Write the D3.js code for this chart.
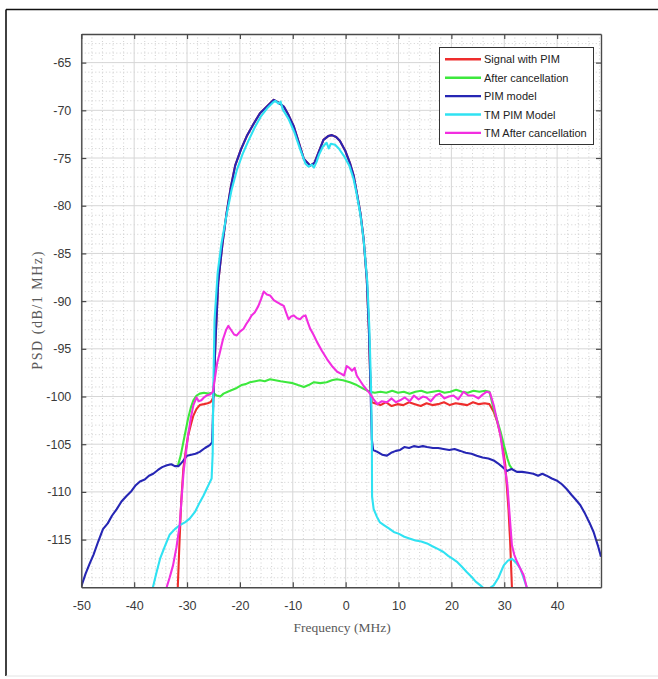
<!DOCTYPE html>
<html><head><meta charset="utf-8">
<script src="https://cdn.jsdelivr.net/npm/d3@7"></script>
<style>html,body{margin:0;padding:0;background:#fff;}svg{display:block;}</style>
</head><body>
<svg id="chart" width="658" height="679"></svg>
<script>
// ---------------- DATA ----------------
const seriesNames = ["Signal with PIM", "After cancellation", "PIM model", "TM PIM Model", "TM After cancellation"];
const seriesColors = ["#ee2d2d", "#3de83d", "#2626b4", "#2fe2f2", "#f22ee0"];
const xTicks = [-50, -40, -30, -20, -10, 0, 10, 20, 30, 40];
const yTicks = [-115, -110, -105, -100, -95, -90, -85, -80, -75, -70, -65];

const lobeMain = [[-25.0,-100],[-24.6,-94],[-24.1,-88],[-23.3,-84],[-22.5,-80.7],[-21.7,-78],[-20.9,-75.8],[-19.8,-74.1],[-18.7,-72.7],[-17.4,-71.4],[-16.2,-70.3],[-14.9,-69.6],[-13.6,-68.9],[-12.7,-69.2],[-11.7,-69.6],[-10.8,-70.5],[-9.8,-71.7],[-8.9,-73.3],[-7.9,-75.1],[-6.7,-75.8],[-5.9,-75.5],[-5.4,-74.8],[-4.2,-73.1],[-3.3,-72.7],[-2.6,-72.6],[-1.8,-72.8],[-1.1,-73.2],[-0.1,-74.2],[0.8,-75.5],[1.5,-76.8],[2.1,-78.6],[2.8,-80.8],[3.4,-83.5],[4.0,-87.7],[4.4,-93],[4.7,-99]];

const signalWithPIM = [[-31.75,-120],[-31.45,-115.6],[-31.1,-111],[-30.7,-107.6],[-30.2,-105.5],[-29.8,-104.1],[-29.3,-103.0],[-28.8,-102.0],[-28.2,-101.3],[-27.6,-100.9],[-26.8,-100.8],[-26.1,-100.7],[-25.6,-100.6],[-25.3,-100.4],
  ...lobeMain,
  [4.95,-100.6],[5.5,-100.7],[6.6,-100.9],[7.6,-100.6],[8.7,-101.0],[9.8,-100.8],[10.9,-100.9],[12.0,-100.6],[13.1,-100.8],[14.2,-101.0],[15.3,-100.7],[16.4,-100.9],[17.5,-100.8],[18.6,-100.6],[19.7,-100.9],[20.8,-100.7],[21.9,-100.8],[23.0,-100.9],[24.1,-100.6],[25.2,-100.8],[26.3,-100.7],[27.2,-100.8],[28.0,-101.6],[28.7,-102.7],[29.3,-104.1],[29.8,-105.6],[30.2,-107.2],[30.8,-111.8],[31.1,-115],[31.45,-120]];

const afterCancellation = [[-31.75,-107.3],[-31.2,-106.2],[-30.7,-104.8],[-30.2,-103.4],[-29.8,-102.3],[-29.3,-101.2],[-28.8,-100.4],[-28.2,-99.9],[-27.6,-99.7],[-26.8,-99.6],[-26.0,-99.7],[-25.1,-99.6],[-24.4,-99.9],[-23.7,-100.0],[-23.1,-99.7],[-22.3,-99.5],[-21.4,-99.3],[-20.6,-99.1],[-19.7,-98.8],[-18.9,-98.7],[-18.1,-98.5],[-17.1,-98.4],[-16.2,-98.3],[-15.3,-98.4],[-14.3,-98.2],[-13.3,-98.3],[-12.3,-98.4],[-11.1,-98.5],[-10.0,-98.6],[-9.0,-98.8],[-7.9,-99.0],[-7.0,-98.8],[-6.0,-98.5],[-4.8,-98.6],[-3.6,-98.5],[-2.6,-98.3],[-1.7,-98.2],[-0.5,-98.3],[0.8,-98.5],[2.1,-98.8],[3.4,-99.2],[4.6,-99.5],[5.5,-99.6],[6.6,-99.5],[7.7,-99.6],[8.8,-99.4],[9.9,-99.6],[11.0,-99.5],[12.1,-99.7],[13.2,-99.5],[14.3,-99.4],[15.4,-99.6],[16.5,-99.5],[17.6,-99.4],[18.7,-99.6],[19.8,-99.5],[20.9,-99.3],[22.0,-99.5],[23.1,-99.6],[24.2,-99.4],[25.3,-99.5],[26.4,-99.4],[27.2,-99.5],[28.0,-101.3],[28.6,-102.4],[29.3,-103.7],[29.9,-105.0],[30.6,-106.5],[31.0,-107.2],[31.5,-107.6]];

const pimModel = [[-50,-119.9],[-49.2,-118.6],[-48.4,-117.5],[-47.7,-116.6],[-46.8,-115.2],[-45.9,-113.9],[-45.0,-113.3],[-44.2,-112.5],[-43.3,-111.8],[-42.4,-111.0],[-41.4,-110.4],[-40.5,-109.9],[-39.7,-109.3],[-38.9,-108.9],[-38.0,-108.7],[-37.2,-108.3],[-36.4,-108.1],[-35.5,-107.7],[-34.7,-107.4],[-33.8,-107.2],[-33.0,-107.1],[-32.3,-107.3],[-31.6,-107.3],[-30.8,-106.8],[-30.0,-106.2],[-29.2,-106.1],[-28.4,-106.0],[-27.6,-105.8],[-26.6,-105.4],[-25.7,-105.1],[-25.25,-104.8],
  ...lobeMain,
  [4.95,-104.5],[5.2,-105.6],[6.0,-105.8],[6.9,-106.1],[7.8,-106.2],[8.6,-105.9],[9.5,-105.7],[10.3,-105.6],[11.1,-105.3],[12.0,-105.4],[12.9,-105.2],[13.8,-105.3],[14.6,-105.2],[15.4,-105.3],[16.5,-105.4],[17.5,-105.4],[18.5,-105.5],[19.6,-105.6],[20.6,-105.5],[21.7,-105.7],[22.7,-105.9],[23.8,-106.0],[24.8,-106.2],[25.9,-106.4],[27.0,-106.5],[28.0,-106.7],[28.8,-107.0],[29.7,-107.4],[30.5,-107.8],[31.4,-107.6],[32.4,-107.9],[33.4,-107.9],[34.5,-108.0],[35.5,-108.1],[36.4,-108.3],[37.2,-108.1],[38.0,-108.3],[39.0,-108.6],[39.9,-108.8],[40.9,-109.2],[41.8,-109.7],[42.7,-110.3],[43.5,-110.8],[44.4,-111.4],[45.3,-112.3],[46.1,-113.2],[46.9,-114.2],[47.7,-115.6],[48.3,-116.8]];

const tmPimModel = [[-36.45,-120],[-35.8,-118.5],[-35.1,-117],[-34.2,-115.7],[-33.3,-114.5],[-32.3,-113.9],[-31.4,-113.5],[-30.4,-113.2],[-29.5,-112.8],[-28.5,-112.1],[-27.6,-111.1],[-26.9,-110.4],[-26.3,-109.7],[-25.7,-109.0],[-25.35,-108.6],[-25.15,-106],[-25.05,-100],[-24.8,-92],[-24.2,-87],[-23.5,-84],[-22.6,-81.2],[-21.6,-78.4],[-20.6,-76.3],[-19.5,-74.6],[-18.4,-73.2],[-17.2,-71.8],[-16.0,-70.6],[-14.7,-69.7],[-13.8,-69.2],[-13.3,-69.0],[-12.7,-69.3],[-12.3,-69.1],[-11.9,-69.9],[-10.8,-70.9],[-9.7,-72.3],[-8.6,-74.1],[-7.6,-75.6],[-7.0,-75.9],[-6.4,-75.7],[-6.0,-76.0],[-5.5,-75.4],[-5.0,-74.6],[-4.3,-73.8],[-3.6,-73.4],[-3.2,-74.0],[-2.8,-73.5],[-2.0,-73.6],[-1.3,-74.0],[-0.3,-74.8],[0.7,-75.8],[1.5,-77.2],[2.1,-78.8],[2.8,-81.0],[3.4,-83.6],[4.1,-88],[4.5,-93],[4.8,-99],[4.95,-104],[5.0,-110.5],[5.3,-111.8],[5.9,-112.6],[6.5,-113.2],[7.3,-113.5],[8.1,-113.8],[9.1,-114.2],[10.1,-114.4],[11.1,-114.7],[12.2,-114.9],[13.2,-115.1],[14.3,-115.2],[15.4,-115.4],[16.4,-115.7],[17.5,-116.0],[18.5,-116.3],[19.4,-116.7],[20.2,-117.0],[21.0,-117.3],[21.9,-117.8],[22.9,-118.4],[23.8,-118.9],[24.6,-119.4],[25.5,-119.8],[26.3,-120.2],[27.2,-120.1],[28.0,-119.8],[28.9,-119.0],[29.9,-117.7],[30.7,-117.2],[31.45,-117.0],[32.2,-117.4],[33.0,-118.0],[33.6,-118.9],[34.25,-120]];

const tmAfterCancellation = [[-33.85,-120],[-33.3,-119],[-32.65,-117.7],[-32.0,-115.8],[-31.4,-113.5],[-31.0,-110.5],[-30.65,-107.9],[-30.2,-105.8],[-29.8,-104.1],[-29.3,-102.3],[-28.8,-100.9],[-28.2,-100.1],[-27.8,-100.5],[-27.3,-100.4],[-26.8,-100.1],[-26.3,-99.9],[-25.7,-99.8],[-25.1,-99.5],[-24.7,-98.0],[-24.3,-96.5],[-23.8,-95.4],[-23.2,-94.0],[-22.6,-93.0],[-22.2,-92.6],[-21.7,-93.0],[-21.1,-93.5],[-20.6,-93.6],[-20.0,-93.2],[-19.3,-92.9],[-18.8,-92.4],[-18.3,-92.0],[-17.8,-91.5],[-17.2,-91.2],[-16.5,-90.5],[-16.0,-89.8],[-15.5,-89.0],[-14.9,-89.3],[-14.3,-89.4],[-13.6,-89.9],[-13.0,-90.1],[-12.4,-90.3],[-11.7,-90.5],[-11.2,-91.3],[-10.8,-91.9],[-10.3,-91.6],[-9.8,-91.5],[-9.2,-91.8],[-8.6,-91.9],[-8.1,-91.6],[-7.6,-91.5],[-7.1,-92.3],[-6.7,-92.9],[-6.1,-93.5],[-5.4,-94.3],[-4.5,-95.2],[-3.5,-96.1],[-2.6,-96.8],[-1.6,-97.4],[-0.9,-97.6],[-0.3,-97.8],[0.2,-96.8],[0.7,-97.0],[1.2,-97.3],[1.7,-97.0],[2.1,-97.8],[2.8,-98.4],[3.4,-98.9],[4.0,-99.3],[4.6,-99.7],[5.3,-100.3],[6.0,-100.8],[6.8,-100.5],[7.8,-100.6],[8.7,-100.2],[9.5,-100.6],[10.3,-100.4],[11.2,-100.1],[12.1,-100.5],[12.9,-99.9],[13.8,-100.3],[14.6,-100.0],[15.3,-100.1],[16.1,-100.5],[17.0,-99.9],[17.8,-99.7],[18.7,-100.2],[19.5,-100.0],[20.4,-99.9],[21.3,-100.3],[22.3,-99.5],[23.2,-99.9],[24.2,-99.9],[25.1,-100.2],[25.9,-99.8],[26.7,-99.5],[27.3,-99.6],[28.0,-100.9],[28.6,-102.4],[29.3,-104.1],[29.9,-106.6],[30.6,-109.3],[31.0,-112.3],[31.45,-115.6],[31.9,-116.6],[32.4,-117.3],[33.0,-118.0],[33.65,-118.7],[34.25,-120]];

const seriesData = [signalWithPIM, afterCancellation, pimModel, tmPimModel, tmAfterCancellation];

// ---------------- LAYOUT ----------------
const svg = d3.select("#chart");
const L = 81.3, R = 601, T = 34, B = 587.3;
const x = d3.scaleLinear().domain([-50, 48.3]).range([L, R]);
const y = d3.scaleLinear().domain([-120, -62]).range([B, T]);

// outer frame
svg.append("line").attr("x1", 6).attr("y1", 9.5).attr("x2", 658).attr("y2", 9.5).attr("stroke", "#111").attr("stroke-width", 1.6);
svg.append("line").attr("x1", 6).attr("y1", 9.5).attr("x2", 6).attr("y2", 676).attr("stroke", "#111").attr("stroke-width", 1.6);
svg.append("line").attr("x1", 6).attr("y1", 676).attr("x2", 658).attr("y2", 676).attr("stroke", "#e4e4e4").attr("stroke-width", 1);

const g = svg.append("g");
g.append("rect").attr("x", L).attr("y", T).attr("width", R - L).attr("height", B - T).attr("fill", "#fff");

// minor grid
const xMinor = d3.range(-48, 48.3, 2).filter(v => v % 10 !== 0);
const yMinor = d3.range(-119, -62, 1).filter(v => v % 5 !== 0);
g.append("g").selectAll("line").data(xMinor).join("line")
  .attr("x1", d => x(d)).attr("x2", d => x(d)).attr("y1", T).attr("y2", B)
  .attr("stroke", "#c4c4c4").attr("stroke-width", 0.8).attr("stroke-dasharray", "1,2.5");
g.append("g").selectAll("line").data(yMinor).join("line")
  .attr("x1", L).attr("x2", R).attr("y1", d => y(d)).attr("y2", d => y(d))
  .attr("stroke", "#c4c4c4").attr("stroke-width", 0.8).attr("stroke-dasharray", "1,2.5");
// major grid
g.append("g").selectAll("line").data(xTicks).join("line")
  .attr("x1", d => x(d)).attr("x2", d => x(d)).attr("y1", T).attr("y2", B)
  .attr("stroke", "#d6d6d6").attr("stroke-width", 1);
g.append("g").selectAll("line").data(yTicks).join("line")
  .attr("x1", L).attr("x2", R).attr("y1", d => y(d)).attr("y2", d => y(d))
  .attr("stroke", "#d6d6d6").attr("stroke-width", 1);

// clip
svg.append("defs").append("clipPath").attr("id", "clip")
  .append("rect").attr("x", L).attr("y", T).attr("width", R - L).attr("height", B - T);

const line = d3.line().x(d => x(d[0])).y(d => y(d[1]));
const lines = g.append("g").attr("clip-path", "url(#clip)");
seriesData.forEach((data, i) => {
  lines.append("path").datum(data).attr("d", line)
    .attr("fill", "none").attr("stroke", seriesColors[i]).attr("stroke-width", 2.1)
    .attr("stroke-linejoin", "round");
});

// axes
const axisColor = "#4a4a4a";
const tickFont = "'Liberation Sans', Arial, sans-serif";
const fmt = d => String(d);
const xAxisB = d3.axisBottom(x).tickValues(xTicks).tickFormat(fmt).tickSizeInner(-5).tickSizeOuter(0).tickPadding(14);
const xAxisT = d3.axisTop(x).tickValues(xTicks).tickSizeInner(-5).tickSizeOuter(0).tickFormat("");
const yAxisL = d3.axisLeft(y).tickValues(yTicks).tickFormat(fmt).tickSizeInner(-5).tickSizeOuter(0).tickPadding(10);
const yAxisR = d3.axisRight(y).tickValues(yTicks).tickSizeInner(-5).tickSizeOuter(0).tickFormat("");

function styleAxis(sel) {
  sel.select(".domain").attr("stroke", axisColor).attr("stroke-width", 1.4);
  sel.selectAll(".tick line").attr("stroke", axisColor).attr("stroke-width", 1.2);
  sel.selectAll(".tick text").attr("fill", "#3a3a3a").style("font-family", tickFont).style("font-size", "12.5px");
}
svg.append("g").attr("transform", `translate(0,${B})`).call(xAxisB).call(styleAxis);
svg.append("g").attr("transform", `translate(0,${T})`).call(xAxisT).call(styleAxis);
svg.append("g").attr("transform", `translate(${L},0)`).call(yAxisL).call(styleAxis);
svg.append("g").attr("transform", `translate(${R},0)`).call(yAxisR).call(styleAxis);

// axis labels
svg.append("text").attr("x", (L + R) / 2 + 1).attr("y", 632).attr("text-anchor", "middle")
  .style("font-family", "'Liberation Serif', 'Times New Roman', serif").style("font-size", "13.5px")
  .attr("fill", "#5a5a5a").text("Frequency (MHz)");
svg.append("text").attr("transform", `translate(42,${(T + B) / 2}) rotate(-90)`).attr("text-anchor", "middle")
  .style("font-family", "'Liberation Serif', 'Times New Roman', serif").style("font-size", "14px")
  .attr("textLength", 118).attr("lengthAdjust", "spacing")
  .attr("fill", "#5a5a5a").text("PSD (dB/1 MHz)");

// legend
const lg = svg.append("g");
lg.append("rect").attr("x", 439.5).attr("y", 47.5).attr("width", 154).attr("height", 97)
  .attr("fill", "#fff").attr("stroke", "#333").attr("stroke-width", 1);
seriesNames.forEach((name, i) => {
  const yy = 59.3 + i * 18.4;
  lg.append("line").attr("x1", 445).attr("x2", 481).attr("y1", yy).attr("y2", yy)
    .attr("stroke", seriesColors[i]).attr("stroke-width", 2.4);
  lg.append("text").attr("x", 484).attr("y", yy + 4).text(name)
    .style("font-family", tickFont).style("font-size", "11px").attr("fill", "#222");
});
</script>
</body></html>
